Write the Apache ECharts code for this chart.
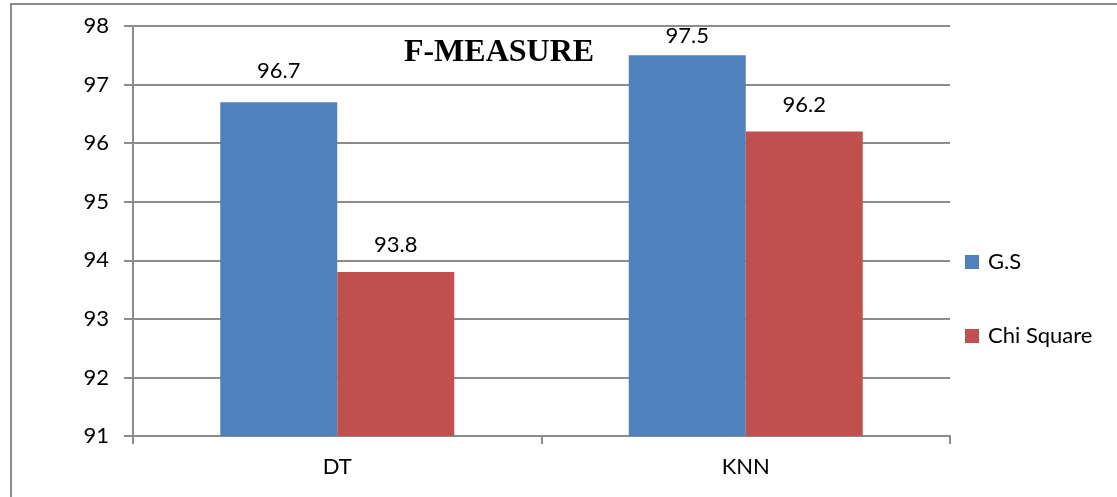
<!DOCTYPE html>
<html>
<head>
<meta charset="utf-8">
<script src="https://cdn.jsdelivr.net/npm/echarts@6/dist/echarts.min.js"></script>
<style>
  html, body { margin: 0; padding: 0; background: #fff; }
  #chart { width: 1117px; height: 497px; }
</style>
</head>
<body>
<div id="chart"></div>
<script>
// F-measure scores per classifier and feature selection method
const categories = ['DT', 'KNN'];
const seriesNames = ['G.S', 'Chi Square'];
const gsValues = [96.7, 97.5];
const chiValues = [93.8, 96.2];
const yTicks = [91, 92, 93, 94, 95, 96, 97, 98];

const FONT = 'Lato, "Open Sans", sans-serif';
const GRID_COLOR = '#8c8c8c';

const chart = echarts.init(document.getElementById('chart'));

function barData(values, distances) {
  return values.map((v, i) => ({
    value: v,
    label: { distance: distances[i] }
  }));
}

const labelStyle = {
  show: true,
  position: 'top',
  color: '#000',
  fontFamily: FONT,
  fontSize: 22
};

chart.setOption({
  animation: false,
  backgroundColor: '#fff',
  title: {
    text: 'F-MEASURE',
    left: 494,
    top: 32,
    textAlign: 'center',
    textStyle: {
      fontFamily: '"Liberation Serif", "Times New Roman", serif',
      fontWeight: 'bold',
      fontSize: 32,
      color: '#000'
    }
  },
  legend: {
    orient: 'vertical',
    left: 960,
    top: 246,
    itemWidth: 14,
    itemHeight: 14,
    itemGap: 52,
    icon: 'rect',
    data: seriesNames,
    textStyle: { fontFamily: FONT, fontSize: 22, color: '#000', padding: [0, 0, 0, 4] }
  },
  grid: { left: 133, right: 167, top: 26, bottom: 61, containLabel: false },
  xAxis: {
    type: 'category',
    data: categories,
    axisLine: { lineStyle: { color: GRID_COLOR, width: 2 } },
    axisTick: { show: true, length: 8, lineStyle: { color: GRID_COLOR, width: 2 } },
    axisLabel: { color: '#000', fontFamily: FONT, fontSize: 22, margin: 20 }
  },
  yAxis: {
    type: 'value',
    min: yTicks[0],
    max: yTicks[yTicks.length - 1],
    interval: 1,
    axisLine: { show: true, lineStyle: { color: GRID_COLOR, width: 2 } },
    axisTick: { show: true, length: 9, lineStyle: { color: GRID_COLOR, width: 2 } },
    axisLabel: { color: '#000', fontFamily: FONT, fontSize: 22, margin: 24 },
    splitLine: { show: true, lineStyle: { color: GRID_COLOR, width: 2 } }
  },
  series: [
    {
      name: seriesNames[0],
      type: 'bar',
      data: barData(gsValues, [20, 8]),
      itemStyle: { color: '#4F81BD' },
      barWidth: 117,
      barGap: '0%',
      label: labelStyle
    },
    {
      name: seriesNames[1],
      type: 'bar',
      data: barData(chiValues, [16, 16]),
      itemStyle: { color: '#C0504D' },
      barWidth: 117,
      barGap: '0%',
      label: labelStyle
    }
  ],
  graphic: [
    {
      type: 'polyline',
      silent: true,
      shape: { points: [[11, 497], [11, 4], [1117, 4]] },
      style: { stroke: '#8c8c8c', lineWidth: 2, fill: null }
    }
  ]
});
</script>
</body>
</html>
